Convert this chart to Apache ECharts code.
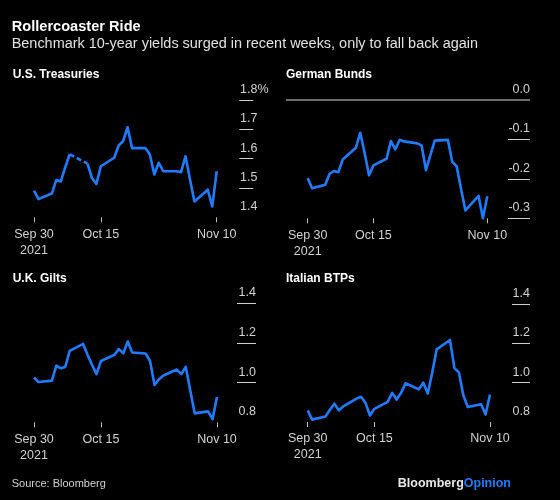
<!DOCTYPE html>
<html><head><meta charset="utf-8">
<script src="https://cdn.jsdelivr.net/npm/echarts@6/dist/echarts.min.js"></script>
<style>html,body{margin:0;padding:0;background:#000;}#c{width:560px;height:500px;}</style>
</head><body><div id="c"></div>
<script>
// ---------- DATA ----------
const dates = ['2021-09-30','2021-10-01','2021-10-04','2021-10-05','2021-10-06','2021-10-07','2021-10-08',
  '2021-10-11','2021-10-12','2021-10-13','2021-10-14','2021-10-15','2021-10-18','2021-10-19','2021-10-20',
  '2021-10-21','2021-10-22','2021-10-25','2021-10-26','2021-10-27','2021-10-28','2021-10-29','2021-11-01',
  '2021-11-02','2021-11-03','2021-11-04','2021-11-05','2021-11-08','2021-11-09','2021-11-10'];
const usYields = [1.491,1.462,1.481,1.527,1.522,1.570,1.615,null,1.583,1.534,1.514,1.574,1.603,1.645,1.660,
  1.707,1.636,1.636,1.614,1.546,1.586,1.557,1.557,1.554,1.608,1.530,1.454,1.494,1.437,1.557];
const deYields = [-0.198,-0.224,-0.215,-0.187,-0.180,-0.183,-0.151,-0.121,-0.083,-0.135,-0.191,-0.166,-0.149,-0.104,-0.125,
  -0.101,-0.105,-0.110,-0.115,-0.178,-0.140,-0.103,-0.101,-0.157,-0.168,-0.225,-0.280,-0.243,-0.300,-0.244];
const ukYields = [1.026,1.003,1.010,1.086,1.072,1.079,1.160,1.195,1.140,1.090,1.043,1.109,1.140,1.169,1.148,
  1.207,1.152,1.147,1.109,0.988,1.017,1.036,1.066,1.043,1.079,0.962,0.845,0.855,0.816,0.928];
const itYields = [0.859,0.812,0.828,0.862,0.893,0.859,0.879,0.919,0.928,0.897,0.833,0.867,0.902,0.948,0.914,
  0.948,0.997,0.966,1.000,0.945,1.050,1.169,1.217,1.074,1.052,0.936,0.876,0.890,0.838,0.940];
const panelTitles = ['U.S. Treasuries','German Bunds','U.K. Gilts','Italian BTPs'];
const xTickDates = ['2021-09-30','2021-10-15','2021-11-10'];
const xTickLabels = ['Sep 30\n2021','Oct 15','Nov 10'];
const usTicks = [1.4,1.5,1.6,1.7,1.8];
const deTicks = [-0.3,-0.2,-0.1,0.0];
const ukTicks = [0.8,1.0,1.2,1.4];
const itTicks = [0.8,1.0,1.2,1.4];
const chartTitle = 'Rollercoaster Ride';
const chartSubtitle = 'Benchmark 10-year yields surged in recent weeks, only to fall back again';
const sourceText = 'Source: Bloomberg';

// ---------- STYLE / LAYOUT ----------
const FONT = '"Liberation Sans", Arial, Helvetica, sans-serif';
const BLUE = '#1f7cff';
const LABEL = '#d2d2d2';
const ts = s => { const p = s.split('-').map(Number); return new Date(p[0], p[1]-1, p[2]).getTime(); };
const xMin = ts(dates[0]), xMax = ts(dates[dates.length-1]);
const xTickVals = xTickDates.map(ts);

const panels = [
  {vals: usYields, ticks: usTicks, tickVals: usTicks.slice(1), pct: true,
   grid: {left: 34, top: 100, width: 182.7, height: 117.3}, axisX: 253.3, tickLen: 14, align: 'left', margin: 13.3,
   titleX: 12.7, titleY: 75},
  {vals: deYields, ticks: deTicks, tickVals: deTicks.slice(0, 3), pct: false,
   grid: {left: 307.7, top: 100, width: 179.6, height: 118.3}, axisX: 530, tickLen: 22, align: 'right', margin: 0,
   titleX: 286, titleY: 75},
  {vals: ukYields, ticks: ukTicks, tickVals: ukTicks.slice(1), pct: false,
   grid: {left: 34, top: 303.3, width: 183, height: 119}, axisX: 256, tickLen: 19, align: 'right', margin: 0,
   titleX: 12.7, titleY: 278.3},
  {vals: itYields, ticks: itTicks, tickVals: itTicks.slice(1), pct: false,
   grid: {left: 307.7, top: 304, width: 182.3, height: 118}, axisX: 530, tickLen: 18, align: 'right', margin: 0,
   titleX: 286, titleY: 278.3}
];

const grids = [], xAxes = [], yAxes = [], series = [];
panels.forEach((p, i) => {
  grids.push(Object.assign({outerBoundsMode: 'none', containLabel: false}, p.grid));
  xAxes.push({
    type: 'value', gridIndex: i, min: xMin, max: xMax, scale: true, position: 'bottom',
    axisLine: {show: false, onZero: false},
    axisTick: {show: true, length: 5, customValues: xTickVals, lineStyle: {color: '#bdbdbd', width: 1}},
    axisLabel: {show: true, customValues: xTickVals, margin: 9, color: LABEL, fontFamily: FONT, fontSize: 12.5,
      lineHeight: 16, verticalAlign: 'top',
      formatter: v => { const k = xTickVals.indexOf(v); return k >= 0 ? xTickLabels[k] : ''; }},
    splitLine: {show: false}
  });
  const tmin = Math.min.apply(null, p.ticks), tmax = Math.max.apply(null, p.ticks);
  yAxes.push({
    type: 'value', gridIndex: i, position: 'right', min: tmin, max: tmax,
    offset: p.axisX - (p.grid.left + p.grid.width),
    axisLine: {show: false, onZero: false},
    axisTick: {show: true, inside: true, length: p.tickLen, customValues: p.tickVals, lineStyle: {color: '#cfcfcf', width: 1}},
    axisLabel: {show: true, inside: true, customValues: p.ticks, margin: p.margin, align: p.align,
      verticalAlign: 'bottom', padding: [0, 0, 4, 0], color: LABEL, fontFamily: FONT, fontSize: 12.5,
      formatter: v => { const s = v.toFixed(1); return (p.pct && Math.abs(v - tmax) < 1e-9) ? s + '%' : s; }},
    splitLine: {show: false}
  });
  series.push({
    type: 'line', xAxisIndex: i, yAxisIndex: i, symbol: 'none', showSymbol: false, connectNulls: false,
    clip: false, animation: false, z: 3,
    lineStyle: {color: BLUE, width: 2.6, join: 'round'},
    data: dates.map((d, k) => [ts(d), p.vals[k]])
  });
  // dashed bridge across missing days
  p.vals.forEach((v, k) => {
    if (v === null && k > 0 && k < p.vals.length - 1) {
      series.push({
        type: 'line', xAxisIndex: i, yAxisIndex: i, symbol: 'none', showSymbol: false, clip: false,
        animation: false, z: 3,
        lineStyle: {color: BLUE, width: 2.6, type: [5, 3]},
        data: [[ts(dates[k-1]), p.vals[k-1]], [ts(dates[k+1]), p.vals[k+1]]]
      });
    }
  });
});

const txt = (text, x, y, size, weight, fill, align) => ({
  type: 'text', silent: true, z: 10,
  style: {text: text, x: x, y: y, fill: fill, align: align || 'left', verticalAlign: 'middle',
    font: (weight || 'normal') + ' ' + size + 'px ' + FONT}
});
const graphics = [
  txt(chartTitle, 11.7, 26.7, 14.6, 'bold', '#ffffff'),
  txt(chartSubtitle, 11.7, 44.3, 14.45, 'normal', '#e0e0e0'),
  txt(sourceText, 11.7, 484, 11, 'normal', '#d0d0d0'),
  {type: 'text', silent: true, z: 10,
   style: {text: '{a|Bloomberg}{b|Opinion}', x: 511, y: 484, align: 'right', verticalAlign: 'middle',
     rich: {a: {fill: '#e8e8e8', fontWeight: 'bold', fontSize: 12.5, fontFamily: FONT},
            b: {fill: BLUE, fontWeight: 'bold', fontSize: 12.5, fontFamily: FONT}}}}
];
panels.forEach((p, i) => graphics.push(txt(panelTitles[i], p.titleX, p.titleY, 12, 'bold', '#ffffff')));

const chart = echarts.init(document.getElementById('c'), null, {renderer: 'canvas', width: 560, height: 500});
chart.setOption({
  backgroundColor: '#000000',
  animation: false,
  grid: grids, xAxis: xAxes, yAxis: yAxes, series: series,
  graphic: graphics
});
// zero line for German Bunds, positioned through the panel's own y scale
const zeroY = chart.convertToPixel({gridIndex: 1}, [xMin, 0])[1];
graphics.push({type: 'line', silent: true, z: 5,
  shape: {x1: 286, y1: zeroY, x2: 530, y2: zeroY}, style: {stroke: '#d8d8d8', lineWidth: 1}});
chart.setOption({graphic: graphics});
</script></body></html>
